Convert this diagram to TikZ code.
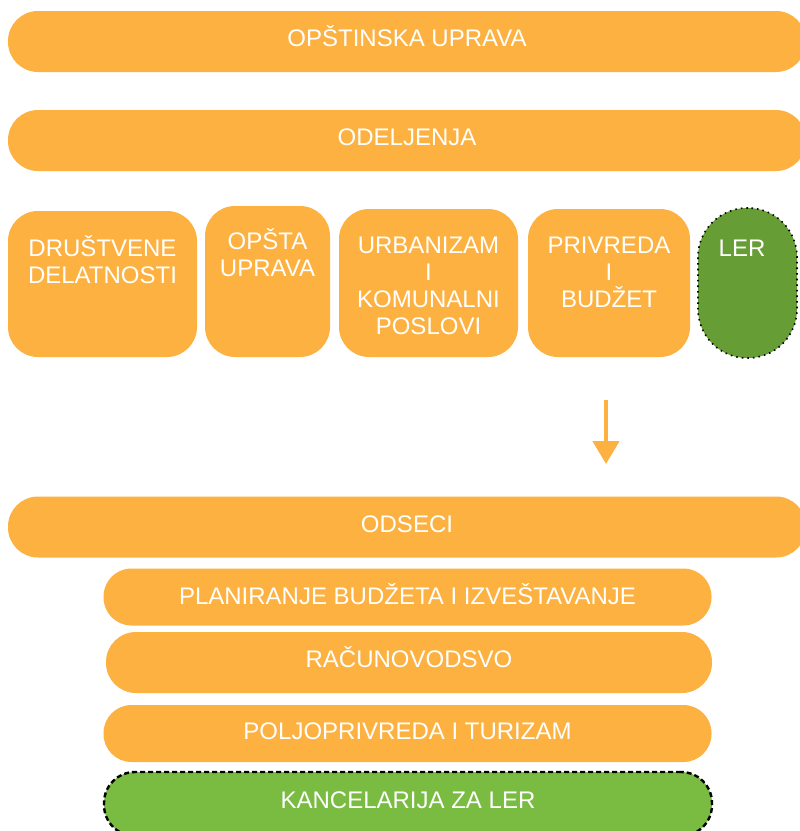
\documentclass[tikz,border=0pt]{standalone}
\usepackage{fontspec}
\setmainfont{Liberation Sans}
\usetikzlibrary{positioning,arrows.meta}
\definecolor{narand}{HTML}{FDB140}
\definecolor{zelena}{HTML}{669E35}
\definecolor{svzelena}{HTML}{79BC41}
\tikzset{
  traka/.style={fill=narand, rounded corners=30pt, minimum width=798pt, minimum height=61pt, inner sep=0pt},
  odsek/.style={fill=narand, rounded corners=28pt, minimum width=608pt, minimum height=57pt, inner sep=0pt},
  kutija/.style={fill=narand, rounded corners=30pt, inner sep=0pt},
  tekst/.style={text=white, font=\fontsize{24}{27}\selectfont, align=center, inner sep=0pt, anchor=base},
}
\begin{document}
\begin{tikzpicture}[x=1pt,y=-1pt]
\useasboundingbox (0,0) rectangle (800,831);

% gornje trake
\node[traka] (uprava) at (407,41.5) {};
\node[tekst] (tuprava) at ([yshift=-4.5pt]uprava.center) {OPŠTINSKA UPRAVA};
\node[traka] (odeljenja) at (407,140.5) {};
\node[tekst] (todeljenja) at ([yshift=-4.5pt]odeljenja.center) {ODELJENJA};

% odeljenja (base = zadnji red)
\node[kutija, minimum width=189pt, minimum height=146pt] (drustvene) at (102.5,284) {};
\node[tekst] (tdrustvene) at (102.5,283.5) {DRUŠTVENE\\DELATNOSTI};
\node[kutija, minimum width=125pt, minimum height=151pt] (opsta) at (267.5,281.5) {};
\node[tekst] (topsta) at (267.5,276.5) {OPŠTA\\UPRAVA};
\node[kutija, minimum width=179pt, minimum height=148pt] (urbanizam) at (428.5,283) {};
\node[tekst] (turbanizam) at (428.5,334) {URBANIZAM\\I\\KOMUNALNI\\POSLOVI};
\node[kutija, minimum width=162pt, minimum height=148pt] (privreda) at (609,283) {};
\node[tekst] (tprivreda) at (609,307.5) {PRIVREDA\\I\\BUDŽET};
\node[kutija, fill=zelena, draw=black, dash pattern=on 1.6pt off 4pt, line width=1.6pt, rounded corners=49pt,
      minimum width=99pt, minimum height=150pt] (ler) at (747.5,283) {};
\node[tekst] (tler) at (742,256.5) {LER};

% strelica
\coordinate (s1) at (606,400);
\coordinate (s2) at (606,464);
\draw[narand, line width=4.5pt, -{Triangle[width=26pt,length=23pt]}] (s1) -- (s2);

% odseci
\node[traka] (odseci) at (407,527) {};
\node[tekst] (todseci) at ([yshift=-5pt]odseci.center) {ODSECI};
\node[odsek] (planiranje) at (407.5,597) {};
\node[tekst] (tplaniranje) at ([yshift=-7pt]planiranje.center) {PLANIRANJE BUDŽETA I IZVEŠTAVANJE};
\node[odsek, minimum width=606pt, minimum height=61pt, rounded corners=30pt] (racunovodstvo) at (409,662.5) {};
\node[tekst] (tracunovodstvo) at ([yshift=-5pt]racunovodstvo.center) {RAČUNOVODSVO};
\node[odsek] (poljoprivreda) at (407.5,733.5) {};
\node[tekst] (tpoljoprivreda) at ([yshift=-6pt]poljoprivreda.center) {POLJOPRIVREDA I TURIZAM};
\node[odsek, fill=svzelena, draw=black, dash pattern=on 5pt off 3pt, line width=2.4pt,
      minimum height=64pt, rounded corners=31pt] (kancelarija) at (408,804) {};
\node[tekst] (tkancelarija) at (408,808) {KANCELARIJA ZA LER};
\end{tikzpicture}
\end{document}
